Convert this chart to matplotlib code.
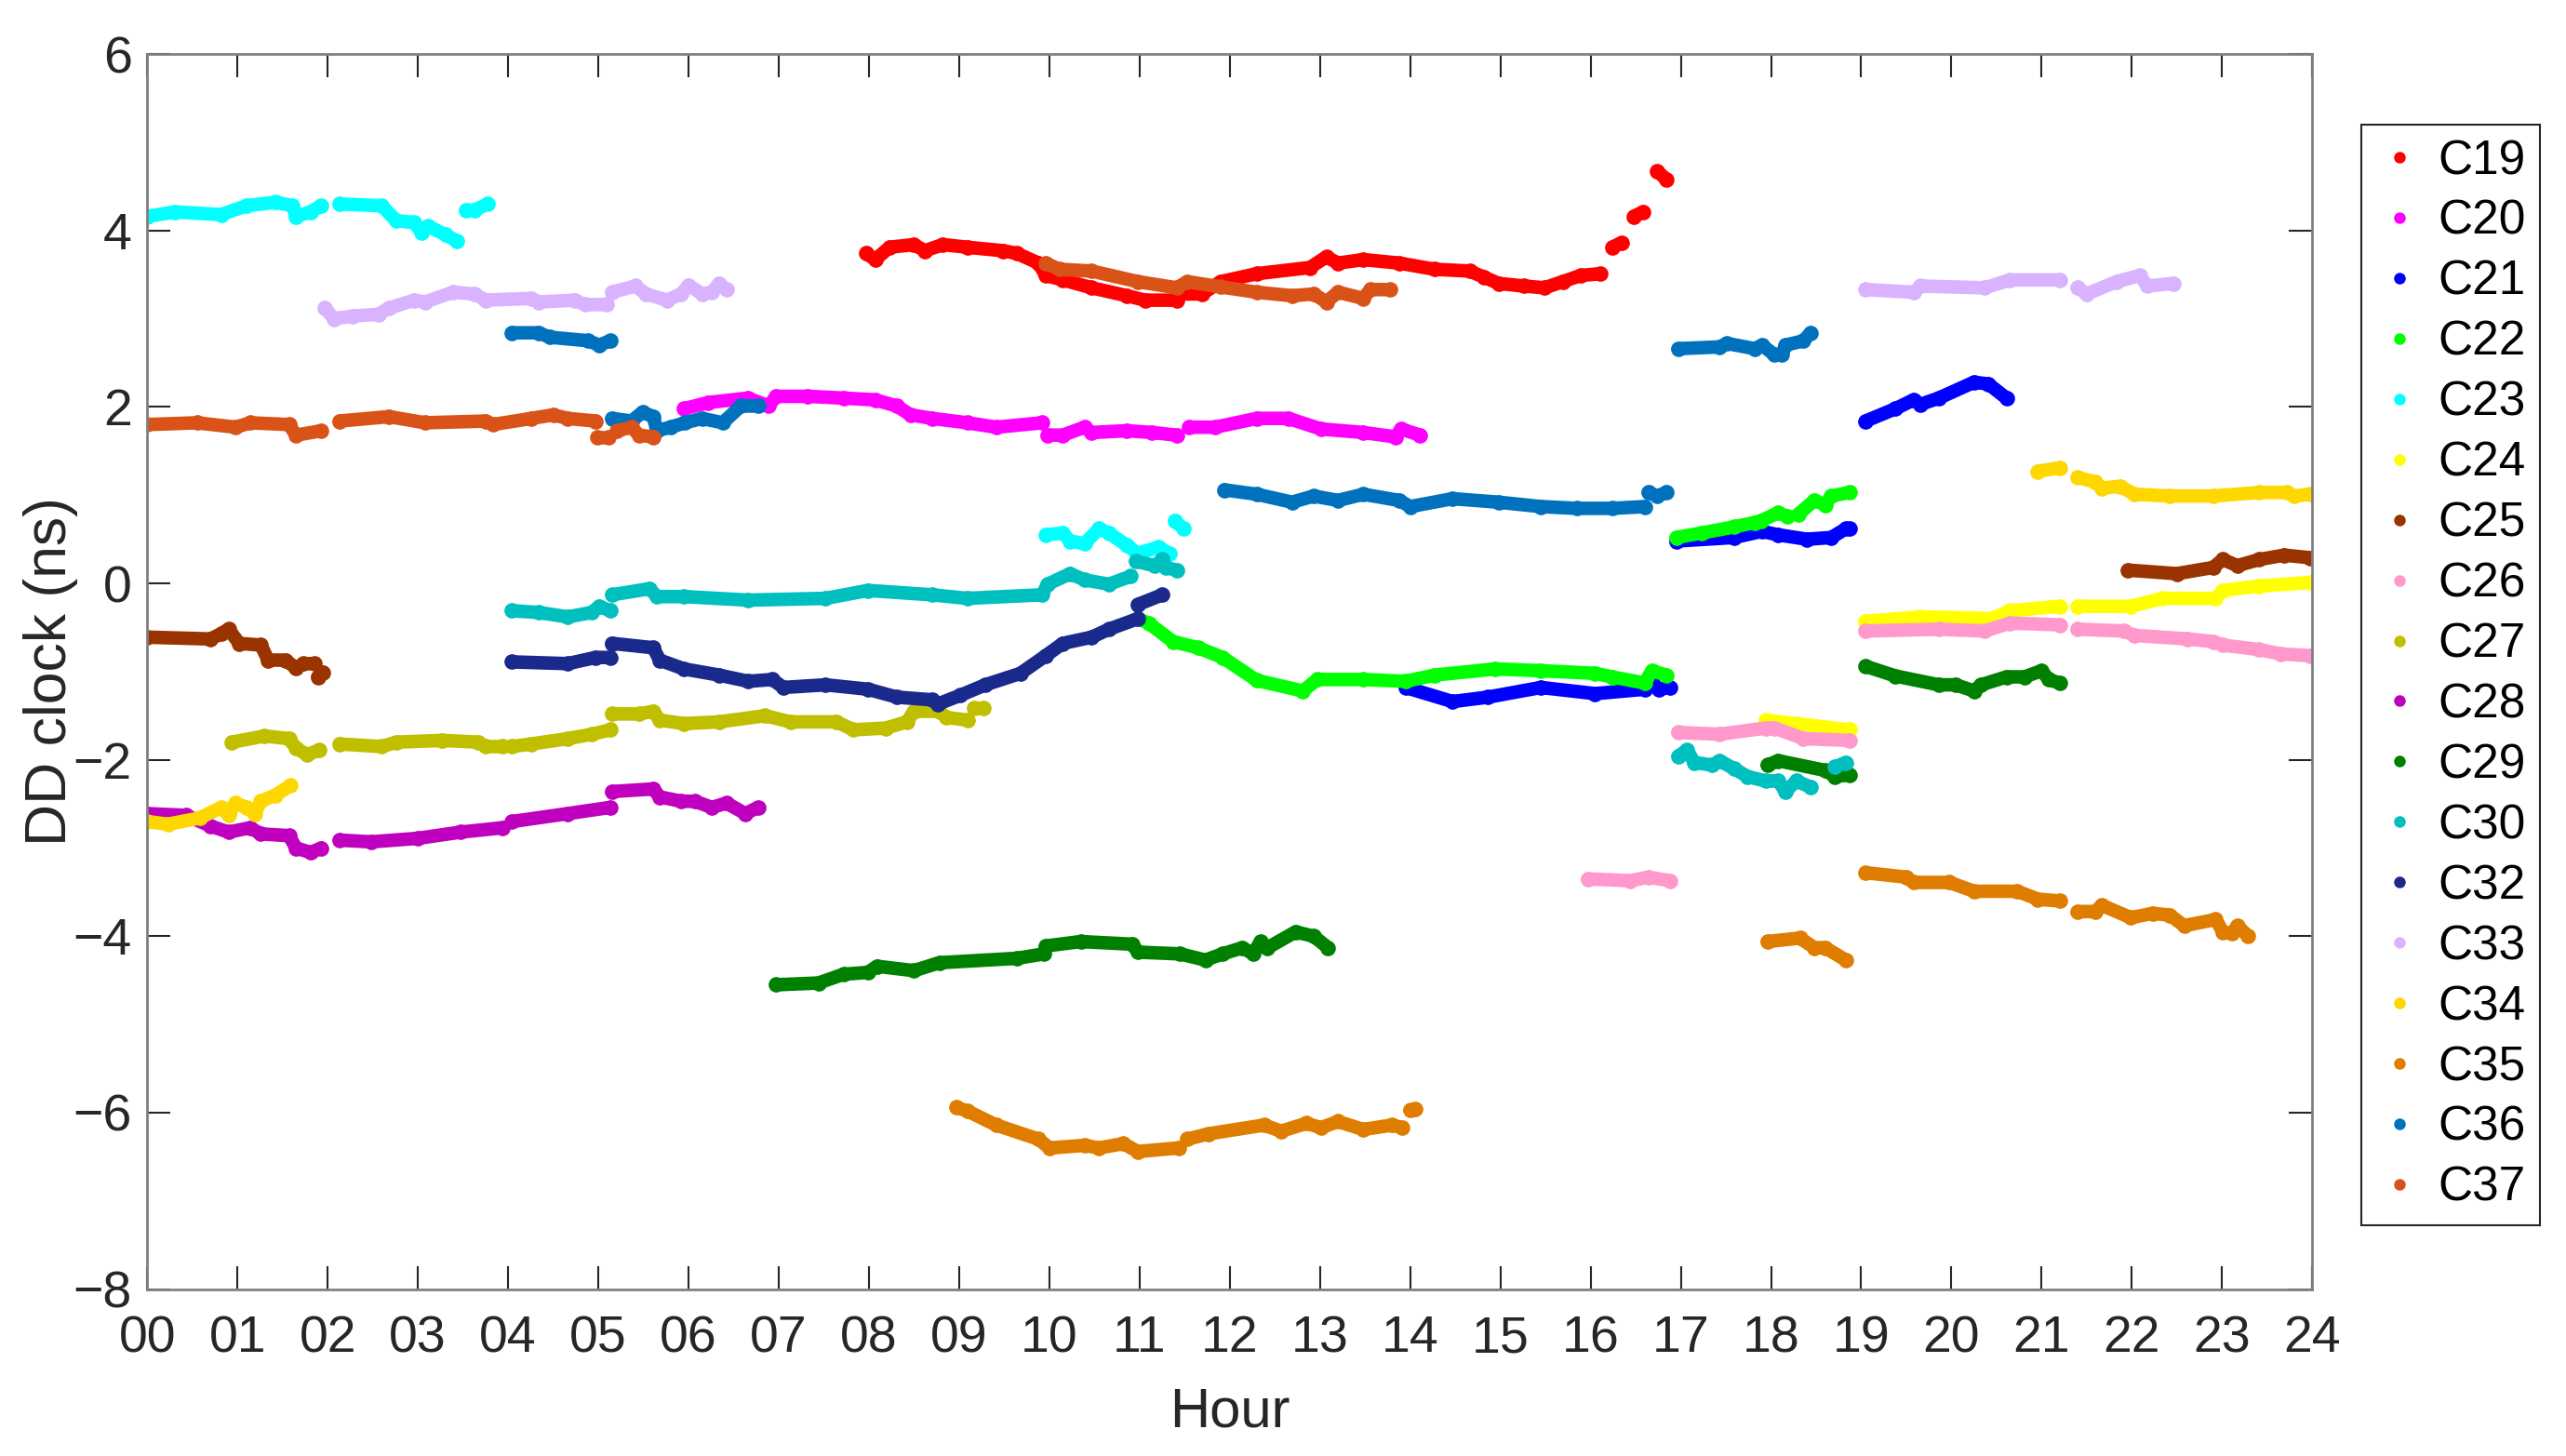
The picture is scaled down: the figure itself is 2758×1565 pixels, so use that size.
import numpy as np
import matplotlib
matplotlib.use("Agg")
import matplotlib.pyplot as plt
from matplotlib.lines import Line2D

# Each satellite: list of segments, each segment = list of (hour, DD clock ns)
c19 = [
    [(7.97, 3.74), (8.07, 3.67), (8.23, 3.81), (8.50, 3.84), (8.62, 3.77), (8.82, 3.84),
     (9.09, 3.81), (9.49, 3.77), (9.64, 3.74), (9.88, 3.63), (9.96, 3.49), (10.15, 3.44),
     (10.47, 3.35), (10.86, 3.26), (11.06, 3.21), (11.41, 3.21), (11.45, 3.28), (11.69, 3.28),
     (11.90, 3.42), (12.30, 3.51), (12.89, 3.58), (13.07, 3.70), (13.20, 3.63), (13.48, 3.67),
     (13.88, 3.63), (14.27, 3.56), (14.66, 3.54), (14.82, 3.47), (14.98, 3.40), (15.26, 3.37),
     (15.49, 3.35), (15.69, 3.42), (15.89, 3.49), (16.11, 3.51)],
    [(16.24, 3.81), (16.34, 3.86)],
    [(16.48, 4.16), (16.58, 4.21)],
    [(16.74, 4.67), (16.84, 4.58)],
]
c20 = [
    [(5.95, 1.98), (6.22, 2.05), (6.66, 2.10), (6.89, 2.01), (6.97, 2.12), (7.32, 2.12),
     (7.72, 2.10), (8.07, 2.08), (8.31, 2.01), (8.46, 1.91), (8.70, 1.87), (9.09, 1.82),
     (9.41, 1.77), (9.92, 1.82)],
    [(9.98, 1.68), (10.15, 1.68), (10.39, 1.77), (10.47, 1.71), (10.86, 1.73), (11.14, 1.71),
     (11.41, 1.68)],
    [(11.55, 1.77), (11.84, 1.77), (12.30, 1.87), (12.65, 1.87), (13.01, 1.75), (13.48, 1.71),
     (13.84, 1.66), (13.90, 1.75), (14.11, 1.68)],
]
c21 = [
    [(13.95, -1.18), (14.47, -1.34), (14.86, -1.29), (15.45, -1.18), (16.05, -1.25),
     (16.60, -1.20), (16.68, -1.13), (16.76, -1.20), (16.88, -1.18)],
    [(16.95, 0.48), (17.59, 0.52), (17.90, 0.59), (18.08, 0.55), (18.40, 0.50), (18.67, 0.52),
     (18.83, 0.62), (18.87, 0.62)],
    [(19.05, 1.84), (19.38, 1.98), (19.58, 2.08), (19.66, 2.03), (19.86, 2.10), (20.25, 2.28),
     (20.41, 2.26), (20.61, 2.10)],
]
c22 = [
    [(10.98, -0.40), (11.10, -0.45), (11.37, -0.66), (11.65, -0.73), (11.92, -0.84),
     (12.30, -1.10), (12.81, -1.22), (12.97, -1.09), (13.48, -1.09), (13.95, -1.11),
     (14.27, -1.04), (14.94, -0.97), (15.45, -0.99), (16.05, -1.02), (16.24, -1.06),
     (16.60, -1.13), (16.68, -0.99), (16.84, -1.04)],
    [(16.95, 0.52), (17.23, 0.57), (17.59, 0.64), (17.82, 0.69), (17.89, 0.71), (18.08, 0.80),
     (18.18, 0.76)],
    [(18.30, 0.78), (18.48, 0.94), (18.60, 0.89), (18.67, 0.99), (18.87, 1.03)],
]
c23 = [
    [(0.0, 4.16), (0.31, 4.21), (0.82, 4.18), (1.10, 4.28), (1.42, 4.32), (1.61, 4.28),
     (1.65, 4.16), (1.81, 4.21), (1.93, 4.28)],
    [(2.13, 4.30), (2.60, 4.28), (2.76, 4.11), (2.96, 4.09), (3.04, 3.98), (3.11, 4.05),
     (3.31, 3.95), (3.43, 3.88)],
    [(3.53, 4.23), (3.63, 4.23), (3.77, 4.30)],
    [(9.96, 0.55), (10.15, 0.57), (10.23, 0.48), (10.39, 0.45), (10.55, 0.62), (10.66, 0.57),
     (10.86, 0.43), (10.98, 0.34), (11.21, 0.41), (11.33, 0.34)],
    [(11.39, 0.71), (11.49, 0.62)],
]
c24 = [
    [(17.94, -1.55), (18.28, -1.59), (18.52, -1.62), (18.87, -1.66)],
    [(19.05, -0.43), (19.66, -0.38), (20.45, -0.40), (20.65, -0.31), (21.20, -0.26)],
    [(21.40, -0.26), (21.99, -0.26), (22.34, -0.17), (22.93, -0.17), (23.01, -0.08),
     (23.41, -0.03), (23.98, 0.01)],
]
c25 = [
    [(0.0, -0.61), (0.70, -0.63), (0.82, -0.57), (0.90, -0.52), (1.02, -0.68), (1.26, -0.70),
     (1.34, -0.87), (1.53, -0.87), (1.65, -0.96), (1.73, -0.91), (1.85, -0.91)],
    [(1.89, -1.06), (1.95, -1.01)],
    [(21.96, 0.15), (22.50, 0.11), (22.90, 0.18), (23.01, 0.27), (23.17, 0.20), (23.41, 0.27),
     (23.69, 0.32), (23.98, 0.29)],
]
c26 = [
    [(15.97, -3.35), (16.44, -3.37), (16.64, -3.33), (16.88, -3.37)],
    [(16.97, -1.69), (17.43, -1.71), (17.94, -1.64), (18.04, -1.64), (18.36, -1.76),
     (18.87, -1.78)],
    [(19.05, -0.54), (19.86, -0.52), (20.37, -0.54), (20.65, -0.45), (21.20, -0.47)],
    [(21.40, -0.52), (21.91, -0.54), (22.03, -0.59), (22.62, -0.63), (22.90, -0.66),
     (23.01, -0.70), (23.41, -0.75), (23.65, -0.80), (23.98, -0.82)],
]
c27 = [
    [(0.94, -1.80), (1.30, -1.73), (1.57, -1.76), (1.65, -1.87), (1.77, -1.94), (1.91, -1.89)],
    [(2.13, -1.82), (2.60, -1.85), (2.76, -1.80), (3.27, -1.78), (3.67, -1.80), (3.75, -1.85),
     (3.94, -1.85)],
    [(4.04, -1.85), (4.26, -1.82), (4.66, -1.76), (4.93, -1.71), (5.13, -1.66)],
    [(5.15, -1.48), (5.45, -1.48), (5.61, -1.45), (5.68, -1.55), (5.95, -1.59), (6.34, -1.57),
     (6.85, -1.50), (7.13, -1.57), (7.64, -1.57), (7.83, -1.66), (8.19, -1.64), (8.42, -1.57),
     (8.50, -1.45), (8.78, -1.45), (8.86, -1.52), (9.09, -1.55)],
    [(9.17, -1.41), (9.27, -1.41)],
]
c28 = [
    [(0.0, -2.61), (0.43, -2.63), (0.70, -2.75), (0.90, -2.82), (1.14, -2.77), (1.26, -2.84),
     (1.57, -2.86), (1.65, -3.00), (1.81, -3.05), (1.93, -3.00)],
    [(2.13, -2.91), (2.48, -2.93), (3.00, -2.89), (3.47, -2.82), (3.94, -2.77)],
    [(4.04, -2.70), (4.66, -2.61), (5.13, -2.54)],
    [(5.15, -2.36), (5.61, -2.33), (5.68, -2.42), (5.92, -2.47), (6.07, -2.47), (6.26, -2.54),
     (6.42, -2.49), (6.63, -2.61), (6.77, -2.54)],
]
c29 = [
    [(6.97, -4.55), (7.44, -4.53), (7.72, -4.43), (7.99, -4.41), (8.09, -4.34), (8.50, -4.39),
     (8.78, -4.30), (9.64, -4.25), (9.94, -4.20), (9.96, -4.11), (10.35, -4.06), (10.92, -4.09),
     (10.98, -4.18), (11.45, -4.20), (11.73, -4.27), (11.92, -4.20), (12.14, -4.13),
     (12.26, -4.20), (12.34, -4.06), (12.42, -4.13), (12.73, -3.95), (12.93, -4.00),
     (13.09, -4.13)],
    [(17.96, -2.06), (18.08, -2.01), (18.60, -2.12), (18.71, -2.19), (18.87, -2.17)],
    [(19.05, -0.94), (19.38, -1.05), (19.86, -1.15), (20.05, -1.15), (20.25, -1.22),
     (20.33, -1.15), (20.61, -1.06), (20.81, -1.06), (21.00, -0.99), (21.08, -1.09),
     (21.20, -1.13)],
]
c30 = [
    [(4.04, -0.31), (4.34, -0.33), (4.66, -0.38), (4.93, -0.33), (5.01, -0.26), (5.13, -0.31)],
    [(5.15, -0.13), (5.57, -0.06), (5.65, -0.15), (5.95, -0.15), (6.66, -0.19), (7.52, -0.17),
     (7.99, -0.08), (8.70, -0.13), (9.09, -0.17), (9.92, -0.13), (9.98, -0.01), (10.23, 0.11),
     (10.39, 0.04), (10.66, -0.01), (10.90, 0.08)],
    [(10.96, 0.25), (11.17, 0.20), (11.25, 0.27), (11.29, 0.18), (11.41, 0.15)],
    [(16.97, -1.96), (17.07, -1.89), (17.15, -2.03), (17.35, -2.06), (17.43, -2.01),
     (17.59, -2.10), (17.74, -2.19), (17.94, -2.24), (18.08, -2.24), (18.16, -2.36),
     (18.28, -2.24), (18.44, -2.31)],
    [(18.71, -2.08), (18.83, -2.03)],
]
c32 = [
    [(4.04, -0.89), (4.66, -0.91), (4.97, -0.84), (5.13, -0.84)],
    [(5.15, -0.68), (5.61, -0.73), (5.68, -0.87), (5.95, -0.97), (6.34, -1.04), (6.66, -1.11),
     (6.93, -1.09), (7.05, -1.18), (7.52, -1.15), (7.99, -1.20), (8.31, -1.29), (8.70, -1.32),
     (8.76, -1.37), (9.01, -1.27), (9.29, -1.15), (9.68, -1.02), (9.96, -0.82), (10.15, -0.68),
     (10.47, -0.61), (10.66, -0.52), (10.98, -0.40)],
    [(10.98, -0.24), (11.25, -0.13)],
]
c33 = [
    [(1.97, 3.12), (2.07, 3.00), (2.28, 3.03), (2.56, 3.05), (2.68, 3.12), (2.96, 3.21),
     (3.08, 3.19), (3.39, 3.30), (3.63, 3.28), (3.75, 3.21), (4.26, 3.23), (4.34, 3.19),
     (4.74, 3.21), (4.85, 3.16), (5.09, 3.16)],
    [(5.15, 3.30), (5.41, 3.37), (5.53, 3.28), (5.76, 3.21), (5.92, 3.28), (6.00, 3.38),
     (6.15, 3.28), (6.26, 3.30), (6.34, 3.40), (6.42, 3.33)],
    [(19.05, 3.33), (19.58, 3.30), (19.66, 3.37), (20.37, 3.35), (20.65, 3.44), (21.20, 3.44)],
    [(21.40, 3.35), (21.50, 3.28), (21.83, 3.42), (22.09, 3.49), (22.17, 3.37), (22.46, 3.40)],
]
c34 = [
    [(0.0, -2.70), (0.23, -2.73), (0.58, -2.66), (0.82, -2.54), (0.90, -2.63), (0.98, -2.49),
     (1.10, -2.54), (1.19, -2.61), (1.26, -2.47), (1.42, -2.40), (1.59, -2.29)],
    [(20.96, 1.27), (21.20, 1.31)],
    [(21.40, 1.20), (21.59, 1.15), (21.67, 1.08), (21.87, 1.10), (22.03, 1.01), (22.42, 0.99),
     (22.90, 0.99), (23.41, 1.03), (23.72, 1.03), (23.80, 0.99), (23.98, 1.01)],
]
c35 = [
    [(8.97, -5.94), (9.09, -5.98), (9.41, -6.14), (9.88, -6.30), (10.00, -6.40), (10.39, -6.37),
     (10.55, -6.40), (10.82, -6.35), (10.98, -6.44), (11.43, -6.40)],
    [(11.53, -6.30), (11.76, -6.24), (12.38, -6.14), (12.57, -6.21), (12.85, -6.12),
     (13.01, -6.17), (13.20, -6.10), (13.48, -6.19), (13.80, -6.14), (13.91, -6.17)],
    [(14.00, -5.97), (14.06, -5.96)],
    [(17.96, -4.06), (18.32, -4.02), (18.48, -4.13), (18.60, -4.13), (18.83, -4.27)],
    [(19.05, -3.28), (19.50, -3.33), (19.58, -3.39), (19.98, -3.39), (20.25, -3.49),
     (20.73, -3.49), (20.96, -3.58), (21.20, -3.60)],
    [(21.40, -3.72), (21.59, -3.72), (21.67, -3.65), (21.99, -3.79), (22.23, -3.74),
     (22.42, -3.76), (22.58, -3.88), (22.93, -3.81), (23.01, -3.95), (23.11, -3.97),
     (23.17, -3.88), (23.29, -4.00)],
]
c36 = [
    [(4.04, 2.84), (4.34, 2.84), (4.46, 2.79), (4.89, 2.75), (5.01, 2.70), (5.13, 2.75)],
    [(5.15, 1.87), (5.37, 1.84), (5.49, 1.94), (5.61, 1.89), (5.65, 1.73), (5.80, 1.77),
     (5.96, 1.82), (6.15, 1.87), (6.38, 1.82), (6.58, 2.01), (6.77, 2.01)],
    [(11.94, 1.06), (12.30, 1.01), (12.69, 0.92), (12.93, 0.99), (13.20, 0.94), (13.48, 1.01),
     (13.88, 0.94), (14.00, 0.87), (14.47, 0.96), (14.98, 0.92), (15.45, 0.87), (15.85, 0.85),
     (16.24, 0.85), (16.60, 0.87)],
    [(16.64, 1.03), (16.74, 0.99), (16.84, 1.03)],
    [(16.97, 2.66), (17.43, 2.68), (17.51, 2.72), (17.82, 2.66), (17.90, 2.70), (18.04, 2.59),
     (18.12, 2.59), (18.16, 2.70), (18.36, 2.75), (18.44, 2.84)],
]
c37 = [
    [(0.0, 1.80), (0.55, 1.82), (0.98, 1.77), (1.14, 1.82), (1.57, 1.80), (1.65, 1.68),
     (1.93, 1.73)],
    [(2.13, 1.84), (2.68, 1.89), (3.08, 1.82), (3.75, 1.84), (3.83, 1.80), (4.26, 1.87),
     (4.50, 1.91), (4.66, 1.87), (4.97, 1.84)],
    [(4.99, 1.66), (5.11, 1.66)],
    [(5.21, 1.73), (5.37, 1.77), (5.45, 1.68), (5.61, 1.66)],
    [(9.96, 3.63), (10.11, 3.56), (10.47, 3.54), (10.98, 3.42), (11.41, 3.35), (11.53, 3.42),
     (11.90, 3.36), (12.30, 3.30), (12.69, 3.26), (12.93, 3.28), (13.07, 3.19), (13.20, 3.30),
     (13.48, 3.23), (13.56, 3.33), (13.78, 3.33)],
]

sat_names = ["C19", "C20", "C21", "C22", "C23", "C24", "C25", "C26", "C27", "C28",
             "C29", "C30", "C32", "C33", "C34", "C35", "C36", "C37"]
sat_data = [c19, c20, c21, c22, c23, c24, c25, c26, c27, c28,
            c29, c30, c32, c33, c34, c35, c36, c37]
sat_colors = ["#FF0000", "#FF00FF", "#0000FF", "#00FF00", "#00FFFF", "#FFFF00",
              "#993300", "#FF99CC", "#BFBF00", "#BF00BF", "#008000", "#00BFBF",
              "#1A2A8C", "#D9B3FF", "#FFD700", "#DE7D00", "#0072BD", "#D95319"]

plt.rcParams["font.family"] = ["Liberation Sans", "DejaVu Sans"]

fig = plt.figure(figsize=(27.58, 15.65), dpi=100)
ax = fig.add_axes([0.0574, 0.1146, 0.8437, 0.8483])

for segs, col in zip(sat_data, sat_colors):
    for seg in segs:
        h = [p[0] for p in seg]
        v = [p[1] for p in seg]
        ax.plot(h, v, "-o", color=col, lw=10.5, ms=12, mew=0,
                solid_capstyle="round", solid_joinstyle="round")

ax.set_xlim(0, 24)
ax.set_ylim(-8, 6)
ax.set_xticks(range(25))
ax.set_xticklabels([f"{i:02d}" for i in range(25)])
ax.set_yticks(range(-8, 7, 2))
ax.tick_params(direction="in", length=18, width=1.5, top=True, right=True,
               labelsize=40, colors="#262626")
ax.tick_params(axis="x", pad=20)
ax.tick_params(axis="y", pad=12)
for sp in ax.spines.values():
    sp.set_color("#808080")
    sp.set_linewidth(2)

ax.set_xlabel("Hour", fontsize=43, color="#262626", labelpad=18)
ax.set_ylabel("DD clock (ns)", fontsize=45, color="#262626", labelpad=-4)

handles = [Line2D([], [], ls="none", marker="o", ms=9, mew=0, color=c)
           for c in sat_colors]
leg = fig.legend(handles, sat_names, loc="upper left",
                 bbox_to_anchor=(0.9203, 0.9146), fontsize=37, frameon=True,
                 fancybox=False, edgecolor="#262626", framealpha=1,
                 labelspacing=0.31, handlelength=1.0, handletextpad=0.3,
                 borderpad=0.3, borderaxespad=0)
leg.get_frame().set_linewidth(1.5)

fig.savefig("out.png", dpi=100)
